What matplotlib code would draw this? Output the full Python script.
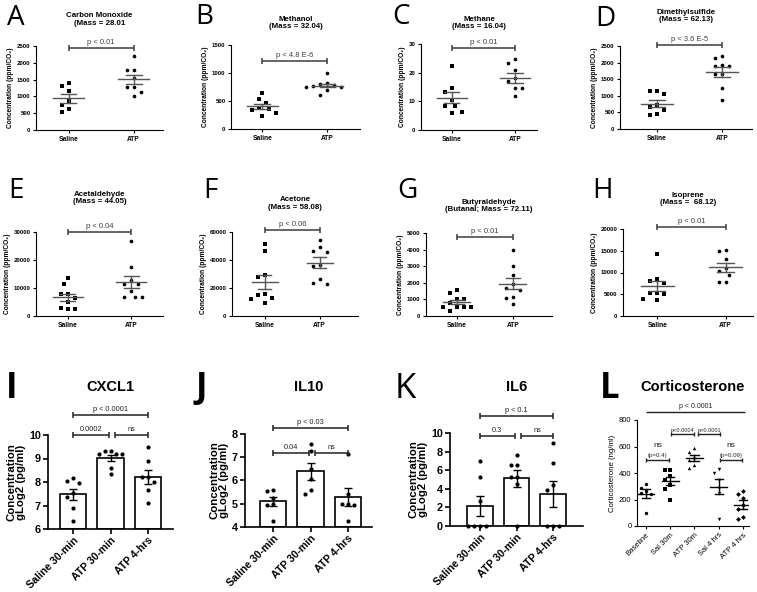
import numpy as np
import matplotlib
matplotlib.use('Agg')
import matplotlib.pyplot as plt

plt.rcParams['font.family'] = ['Liberation Sans', 'DejaVu Sans']

# ---------------- data ----------------
groups2 = ['Saline', 'ATP']

co_saline = [1400, 1300, 1150, 850, 750, 620, 540]
co_atp = [2200, 1800, 1780, 1550, 1290, 1280, 1140, 1000]
methanol_saline = [650, 530, 470, 380, 350, 340, 290, 240]
methanol_atp = [1000, 830, 800, 790, 770, 750, 750, 690, 610]
methane_saline = [22.2, 14.6, 13.4, 10.5, 8.4, 8.2, 6.4, 5.8]
methane_atp = [24.7, 23.3, 21.0, 18.0, 17.0, 14.8, 14.8, 11.7]
dms_saline = [1130, 1130, 1040, 720, 650, 580, 440, 430]
dms_atp = [2200, 2130, 1930, 1900, 1900, 1650, 1650, 1230, 870]
acetaldehyde_saline = [13700, 11500, 7800, 7700, 6500, 5000, 3000, 2400, 2500]
acetaldehyde_atp = [26800, 17400, 13000, 11400, 11400, 9000, 6900, 6800, 6800]
acetone_saline = [51600, 46100, 29400, 27700, 15500, 15000, 13100, 12500, 9600]
acetone_atp = [54500, 49200, 46600, 45900, 36600, 35400, 26300, 23900, 22700]
butanal_saline = [1560, 1360, 1000, 1000, 800, 560, 560, 560, 560, 320]
butanal_atp = [4000, 3000, 2450, 1900, 1700, 1550, 1150, 1100, 720]
isoprene_saline = [14200, 8500, 8100, 7700, 5300, 5200, 5000, 3900, 3600]
isoprene_atp = [15200, 14900, 13100, 11000, 10400, 9500, 7800, 7800]

voc_titles = ['Carbon Monoxide\n(Mass = 28.01', 'Methanol\n(Mass = 32.04)',
              'Methane\n(Mass = 16.04)', 'Dimethylsulfide\n(Mass = 62.13)',
              'Acetaldehyde\n(Mass = 44.05)', 'Acetone\n(Mass = 58.08)',
              'Butyraldehyde\n(Butanal; Mass = 72.11)', 'Isoprene\n(Mass =  68.12)']
voc_letters = list('ABCDEFGH')
voc_pvals = ['p < 0.01', 'p < 4.8 E-6', 'p < 0.01', 'p < 3.6 E-5',
             'p < 0.04', 'p < 0.06', 'p < 0.01', 'p < 0.01']
voc_pline = [2430, 1214, 28.5, 2530, 30100, 61400, 4760, 20530]
voc_ymax = [2500, 1500, 30, 2500, 30000, 60000, 5000, 20000]
voc_ystep = [500, 500, 10, 500, 10000, 20000, 1000, 5000]

groups3 = ['Saline 30-min', 'ATP 30-min', 'ATP 4-hrs']
cxcl1 = [[8.15, 8.05, 7.95, 7.55, 7.35, 6.9, 6.35],
         [9.3, 9.3, 9.2, 9.2, 9.2, 8.6, 8.35],
         [9.5, 8.9, 8.2, 8.2, 8.0, 7.65, 7.1]]
il10 = [[5.6, 5.55, 5.25, 5.0, 4.95, 4.25],
        [7.55, 7.25, 6.5, 6.05, 5.6, 5.4],
        [7.15, 5.4, 5.0, 5.0, 4.95, 4.25]]
il6 = [[7.0, 5.3, 2.7, 0, 0, 0, 0],
       [7.6, 6.6, 6.6, 5.3, 5.3, 4.5, 0],
       [8.9, 6.8, 4.4, 3.9, 0, 0, 0]]

cort_groups = ['Baseline', 'Sal 30m', 'ATP 30m', 'Sal 4 hrs', 'ATP 4 hrs']
cort = [[320, 290, 265, 250, 245, 100],
        [425, 425, 380, 350, 310, 280, 200],
        [590, 560, 520, 500, 460, 435],
        [430, 400, 350, 290, 250, 55],
        [265, 245, 210, 160, 130, 70, 50]]
cort_markers = ['o', 's', '^', 'v', 'D']

# ---------------- helpers ----------------
W, H = 757, 592
fig = plt.figure(figsize=(W / 100, H / 100), dpi=100)


def add_ax(l, r, t, b):
    return fig.add_axes([l / W, 1 - b / H, (r - l) / W, (b - t) / H])


def fx(x):
    return x / W


def fy(y):
    return 1 - y / H


def swarm_x(ax, center, vals, d_px):
    vals = np.asarray(vals, float)
    pts = ax.transData.transform(np.column_stack([np.full(len(vals), center), vals]))
    cx = pts[0, 0]
    ypx = pts[:, 1]
    order = np.argsort(-vals, kind='stable')
    cands = [0.0]
    for k in range(1, 30):
        cands += [-k * d_px / 2, k * d_px / 2]
    placed = []
    xs = np.zeros(len(vals))
    for i in order:
        off = 0.0
        for c in cands:
            if all((c - px) ** 2 + (ypx[i] - py) ** 2 >= d_px ** 2 * 0.999 for px, py in placed):
                off = c
                break
        placed.append((off, ypx[i]))
        xs[i] = cx + off
    inv = ax.transData.inverted()
    return inv.transform(np.column_stack([xs, ypx]))[:, 0]


def bracket(ax, x0, x1, y, text, size, color, lw=1.0, cap=4, pad=1.5, caps=True):
    ax.plot([x0, x1], [y, y], color=color, lw=lw, clip_on=False, solid_capstyle='butt', zorder=5)
    if caps:
        ax.plot([x0, x1], [y, y], ls='none', marker='|', ms=cap, mew=lw, color=color,
                clip_on=False, zorder=5)
    if text:
        ax.annotate(text, xy=((x0 + x1) / 2, y), xytext=(0, pad), textcoords='offset points',
                    ha='center', va='bottom', fontsize=size, color=color,
                    annotation_clip=False)


def style_axes(ax, lw, ticklen, labelsize, weight):
    for s in ['top', 'right']:
        ax.spines[s].set_visible(False)
    for s in ['left', 'bottom']:
        ax.spines[s].set_linewidth(lw)
    ax.tick_params(direction='out', length=ticklen, width=lw, labelsize=labelsize, pad=1.5)
    for lab in ax.get_xticklabels() + ax.get_yticklabels():
        lab.set_fontweight(weight)


# ---------------- rows 1 & 2: VOC scatter plots ----------------
voc_data = [(co_saline, co_atp), (methanol_saline, methanol_atp),
            (methane_saline, methane_atp), (dms_saline, dms_atp),
            (acetaldehyde_saline, acetaldehyde_atp), (acetone_saline, acetone_atp),
            (butanal_saline, butanal_atp), (isoprene_saline, isoprene_atp)]
voc_boxes = [(36, 163, 46, 130), (231, 360, 45, 129), (421, 537, 44, 130), (620, 752, 46, 129),
             (36, 163, 232, 316), (232, 358, 232, 316), (426, 552, 233, 316), (623, 753, 229, 316)]
voc_xlims = [(-0.5, 1.45), (-0.48, 1.5), (-0.49, 1.35), (-0.57, 1.46),
             (-0.5, 1.5), (-0.6, 1.7), (-0.55, 1.7), (-0.5, 1.4)]
title_y = [19.5, 23, 23, 16, 198, 203.5, 206, 199]
letter_pos = [(7, 25), (195, 24), (392, 24), (595, 26), (8, 198), (203, 198), (397, 198), (592, 198)]

gray = '#3c3c3c'
for i in range(8):
    l, r, t, b = voc_boxes[i]
    ax = add_ax(l, r, t, b)
    ax.set_xlim(*voc_xlims[i])
    ax.set_ylim(0, voc_ymax[i])
    ax.set_yticks(np.arange(0, voc_ymax[i] + 1e-9, voc_ystep[i]))
    ax.set_xticks([0, 1])
    ax.set_xticklabels(groups2)
    style_axes(ax, 0.8, 2.5, 4.4, 'bold')
    ax.tick_params(axis='x', labelsize=4.8)
    ax.set_ylabel('Concentration (ppm/CO₂)', fontsize=4.8, fontweight='bold', labelpad=2)
    for k, (vals, mk) in enumerate(zip(voc_data[i], ['s', 'o'])):
        xs = swarm_x(ax, k, vals, 7.0)
        ax.scatter(xs, vals, marker=mk, s=6 if mk == 's' else 7, color='black', zorder=3,
                   linewidths=0, clip_on=False)
        m = np.mean(vals)
        se = np.std(vals, ddof=1) / np.sqrt(len(vals))
        ax.plot([k - 0.24, k + 0.24], [m, m], color='#555555', lw=1.0, zorder=4)
        ax.plot([k - 0.12, k + 0.12], [m + se, m + se], color='#555555', lw=1.0, zorder=4)
        ax.plot([k - 0.12, k + 0.12], [m - se, m - se], color='#555555', lw=1.0, zorder=4)
        ax.plot([k, k], [m - se, m + se], color='#555555', lw=1.0, zorder=4)
    bracket(ax, 0, 1, voc_pline[i], voc_pvals[i], 5.4, gray, lw=1.1, cap=4, pad=1.5)
    fig.text(fx((l + r) / 2), fy(title_y[i]), voc_titles[i], ha='center', va='center',
             fontsize=5.7, fontweight='bold', linespacing=1.15)
    lx, ly = letter_pos[i]
    fig.text(fx(lx), fy(ly), voc_letters[i], ha='left', va='baseline', fontsize=20,
             family=['Open Sans', 'DejaVu Sans'])

# ---------------- row 3: bar charts ----------------
bar_sets = [cxcl1, il10, il6]
bar_titles = ['CXCL1', 'IL10', 'IL6']
bar_letters = ['I', 'J', 'K']
bar_boxes = [(48, 173, 435, 529), (245, 372, 434, 527), (450, 583, 433, 526)]
bar_xlims = [(-0.67, 2.67), (-0.75, 2.64), (-0.82, 2.82)]
bar_ylims = [(6, 10), (4, 8), (0, 10)]
bar_ysteps = [1, 1, 2]
bar_letter_pos = [(6, 398), (196, 398), (395, 398)]
bar_letter_w = ['bold', 'bold', 'normal']
bar_top = [(10.83, 'p < 0.0001'), (8.24, 'p < 0.03'), (11.8, 'p < 0.1')]
bar_low = [(10.0, '0.0002', 'ns'), (7.17, '0.04', 'ns'), (9.7, '0.3', 'ns')]

for i in range(3):
    l, r, t, b = bar_boxes[i]
    ax = add_ax(l, r, t, b)
    ax.set_xlim(*bar_xlims[i])
    y0, y1 = bar_ylims[i]
    ax.set_ylim(y0, y1)
    ax.set_yticks(np.arange(y0, y1 + 1e-9, bar_ysteps[i]))
    ax.set_xticks([0, 1, 2])
    ax.set_xticklabels(groups3, rotation=45, ha='right', va='top', rotation_mode='anchor')
    style_axes(ax, 1.2, 3.5, 7.8, 'bold')
    ax.tick_params(axis='x', labelsize=7.6, pad=1.0)
    ax.set_ylabel('Concentration\ngLog2 (pg/ml)', fontsize=8.2, fontweight='bold',
                  labelpad=2, linespacing=1.0)
    data = bar_sets[i]
    means = [np.mean(v) for v in data]
    sems = [np.std(v, ddof=1) / np.sqrt(len(v)) for v in data]
    ax.bar([0, 1, 2], [m - y0 for m in means], bottom=y0, width=0.7, color='white',
           edgecolor='black', linewidth=1.2, zorder=2)
    ax.errorbar([0, 1, 2], means, yerr=sems, fmt='none', ecolor='black', elinewidth=1.0,
                capsize=3, capthick=1.0, zorder=3)
    for k, vals in enumerate(data):
        xs = swarm_x(ax, k, vals, 5.8)
        ax.scatter(xs, vals, s=9, color='black', zorder=4, linewidths=0, clip_on=False)
    yt, tt = bar_top[i]
    bracket(ax, 0, 2, yt, tt, 5.3, '#222222', lw=1.1, cap=4, pad=1.5)
    yl, t1, t2 = bar_low[i]
    bracket(ax, 0, 0.95, yl, t1, 5.3, '#222222', lw=1.1, cap=4, pad=1.5)
    bracket(ax, 1.12, 2, yl, t2, 5.3, '#222222', lw=1.1, cap=4, pad=1.5)
    fig.text(fx((l + r) / 2), fy(387), bar_titles[i], ha='center', va='center',
             fontsize=10.5, fontweight='bold')
    lx, ly = bar_letter_pos[i]
    fig.text(fx(lx), fy(ly), bar_letters[i], ha='left', va='baseline', fontsize=25,
             fontweight=bar_letter_w[i], family=['Open Sans', 'DejaVu Sans'])

# ---------------- panel L: corticosterone ----------------
ax = add_ax(637, 749, 420, 526)
ax.set_xlim(-0.37, 4.25)
ax.set_ylim(0, 800)
ax.set_yticks([0, 200, 400, 600, 800])
ax.set_xticks(range(5))
ax.set_xticklabels(cort_groups, rotation=45, ha='right', va='top', rotation_mode='anchor')
style_axes(ax, 0.8, 2.5, 5.5, 'normal')
ax.set_ylabel('Corticosterone (ng/ml)', fontsize=5.6, labelpad=2)
for k, vals in enumerate(cort):
    xs = swarm_x(ax, k, vals, 5.0)
    ax.scatter(xs, vals, marker=cort_markers[k], s=6, color='black', zorder=3, linewidths=0,
               clip_on=False)
    m = np.mean(vals)
    se = np.std(vals, ddof=1) / np.sqrt(len(vals))
    ax.plot([k - 0.35, k + 0.35], [m, m], color='black', lw=1.0, zorder=4)
    ax.plot([k - 0.17, k + 0.17], [m + se] * 2, color='black', lw=1.0, zorder=4)
    ax.plot([k - 0.17, k + 0.17], [m - se] * 2, color='black', lw=1.0, zorder=4)
    ax.plot([k, k], [m - se, m + se], color='black', lw=1.0, zorder=4)
bracket(ax, 0, 4.1, 860, 'p < 0.0001', 5.0, '#222222', lw=1.0, caps=False, pad=1.5)
bracket(ax, 1.05, 2.0, 695, 'p<0.0004', 4.1, '#222222', lw=1.0, cap=3, pad=1.0)
bracket(ax, 2.15, 3.05, 695, 'p<0.0001', 4.1, '#222222', lw=1.0, cap=3, pad=1.0)
bracket(ax, 0.0, 0.95, 500, '(p=0.4)', 4.4, '#222222', lw=1.0, cap=3, pad=1.0)
bracket(ax, 3.05, 3.95, 500, '(p=0.09)', 4.4, '#222222', lw=1.0, cap=3, pad=1.0)
ax.annotate('ns', xy=(0.475, 500), xytext=(0, 7.5), textcoords='offset points', ha='center',
            va='bottom', fontsize=6, color='#222222', annotation_clip=False)
ax.annotate('ns', xy=(3.5, 500), xytext=(0, 7.5), textcoords='offset points', ha='center',
            va='bottom', fontsize=6, color='#222222', annotation_clip=False)
fig.text(fx(693), fy(387), 'Corticosterone', ha='center', va='center', fontsize=10.5,
         fontweight='bold')
fig.text(fx(600), fy(398), 'L', ha='left', va='baseline', fontsize=25, fontweight='bold',
         family=['Open Sans', 'DejaVu Sans'])

fig.savefig('out.png', dpi=100, facecolor='white')
